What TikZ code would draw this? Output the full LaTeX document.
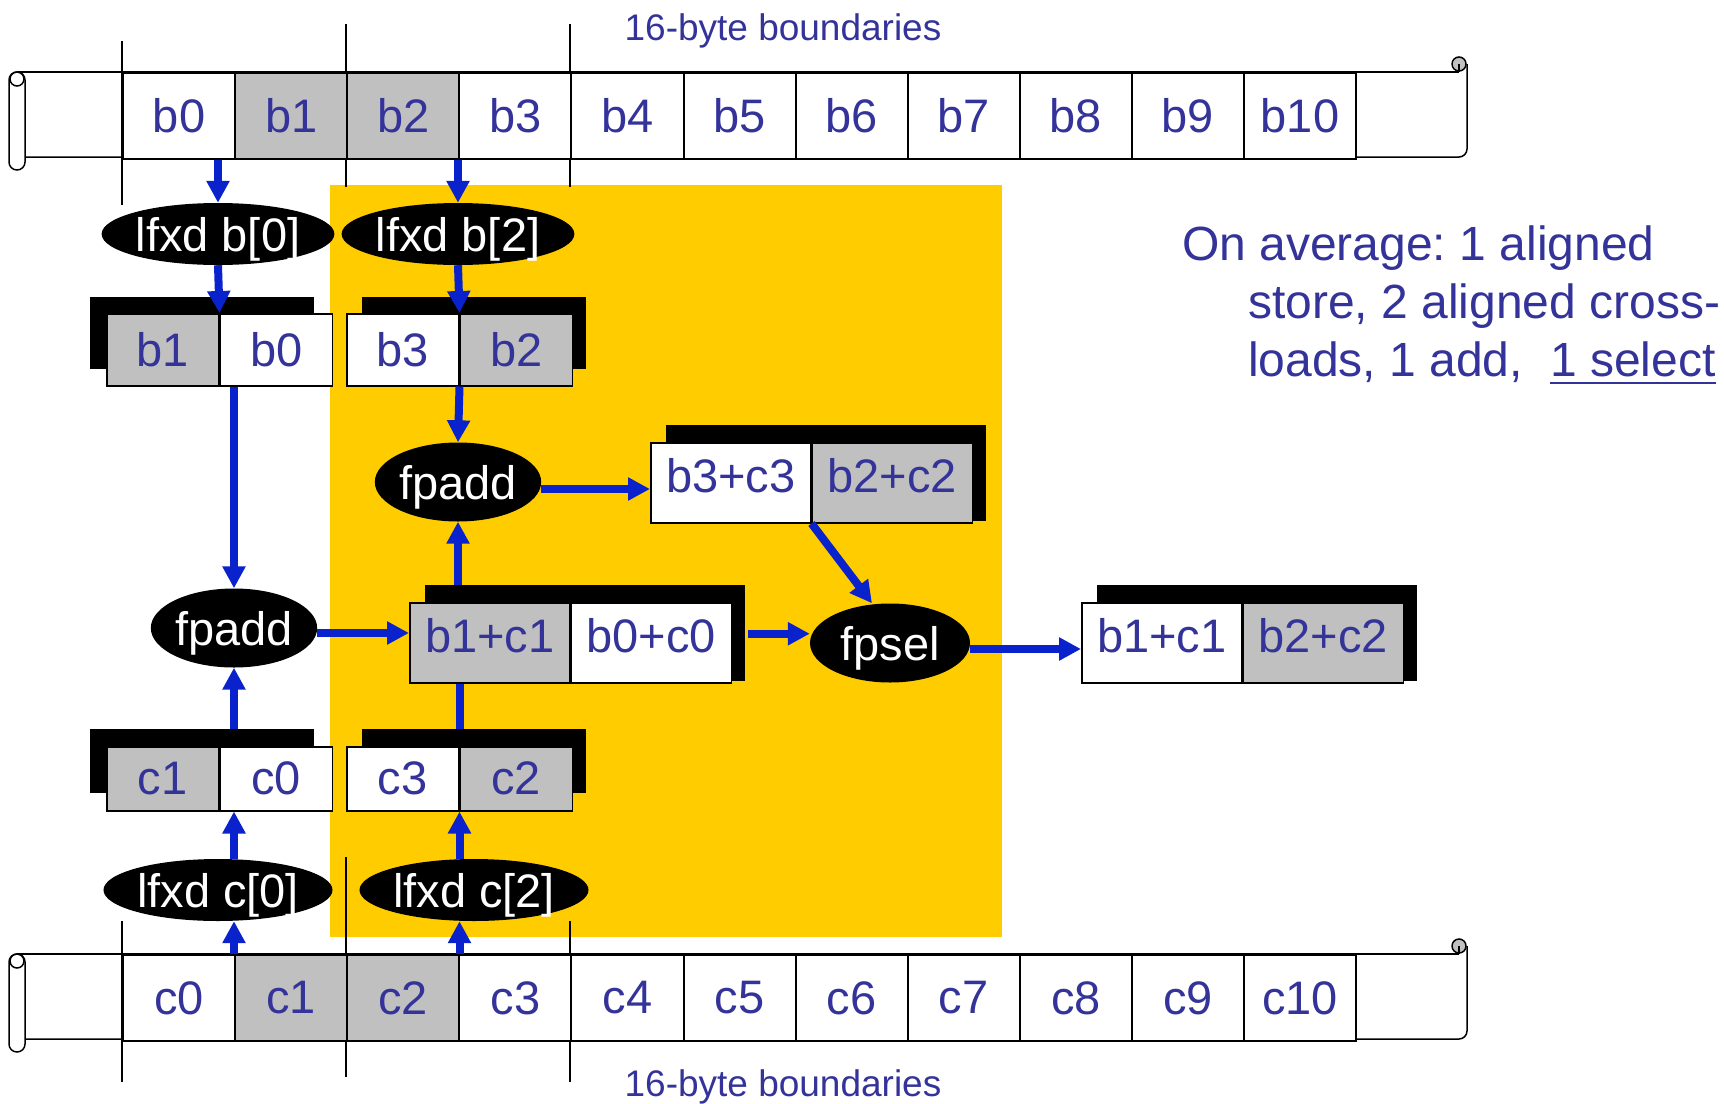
\documentclass[tikz,border=0pt]{standalone}
\usepackage{fontspec}
\setmainfont{Liberation Sans}
\usetikzlibrary{arrows.meta,positioning,shapes.geometric}
\frenchspacing

\definecolor{textblue}{HTML}{333399}
\definecolor{flowblue}{HTML}{0A22CC}
\definecolor{cellgray}{HTML}{C0C0C0}
\definecolor{hotyellow}{HTML}{FFCC00}

\newcommand{\regfont}{\fontsize{47}{56}\selectfont}
\newcommand{\notefont}{\fontsize{48}{58}\selectfont}
\newcommand{\tagfont}{\fontsize{37}{44}\selectfont}

\begin{document}
\begin{tikzpicture}[x=1pt,y=-1pt,
  >={Triangle[length=22pt,width=22pt]},
  memcell/.style={draw,line width=2pt,minimum width=112.1pt,minimum height=86pt,
    inner sep=0pt,text=textblue,font=\regfont},
  reg/.style={draw,line width=1.5pt,inner sep=0pt,text=textblue,font=\regfont},
  pair/.style={reg,minimum width=112pt,minimum height=72pt},
  wide/.style={reg,minimum width=160pt,minimum height=80pt,text depth=14pt},
  op/.style={ellipse,fill=black,text=white,inner sep=0pt,font=\regfont,text depth=0pt},
  load/.style={op,minimum width=225pt,minimum height=62pt},
  alu/.style={op,minimum width=160pt,minimum height=79pt},
  rail/.style={line width=1.5pt},
  bound/.style={line width=1.5pt},
  flow/.style={->,draw=flowblue,line width=8pt},
  link/.style={draw=flowblue,line width=8pt},
  tag/.style={text=textblue,font=\tagfont,inner sep=0pt},
  note/.style={text=textblue,font=\notefont,inner sep=0pt}]

\useasboundingbox (0,0) rectangle (1724,1103);

%% Highlighted region
\fill[hotyellow] (330,185) rectangle (1002,937);

%% 16-byte boundary marks
\draw[bound] (122,41) -- (122,205);
\draw[bound] (346,24) -- (346,187);
\draw[bound] (570,24) -- (570,187);
\draw[bound] (122,921) -- (122,1082);
\draw[bound] (346,857) -- (346,1077);
\draw[bound] (570,921) -- (570,1082);
\node[tag,anchor=base] (bndtop) at (783,40) {16-byte boundaries};
\node[tag,anchor=base] (bndbot) at (783,1096) {16-byte boundaries};

%% Memory streams b and c (scrolls)
\foreach \rw/\ytop in {b/72,c/954}{
  \draw[rail] (17,\ytop) -- (1459,\ytop);
  \draw[rail,rounded corners=8pt] (25,\ytop+85) -- (1467,\ytop+85) -- (1467,\ytop-8);
  \draw[rail,fill=white,rounded corners=7.9pt] (9,\ytop) rectangle (25,\ytop+98);
  \draw[rail] (17,\ytop+7) circle (7pt);
  \draw[rail,fill=cellgray] (1459,\ytop-8) circle (7pt);
  \draw[rail] (1459,\ytop-8) -- (1459,\ytop);
  \foreach \i/\f in {0/white,1/cellgray,2/cellgray,3/white,4/white,5/white,
                     6/white,7/white,8/white,9/white,10/white}{
    \node[memcell,fill=\f,anchor=north west] (\rw\i) at ({122+112.1*\i},\ytop) {\rw\i};
  }
}

%% Register shadows
\fill (90,297) rectangle (314,369);
\fill (362,297) rectangle (586,369);
\fill (90,729) rectangle (314,793);
\fill (362,729) rectangle (586,793);
\fill (666,425) rectangle (986,521);
\fill (425,585) rectangle (745,681);
\fill (1097,585) rectangle (1417,681);

%% Registers
\node[pair,fill=cellgray,anchor=north west] (rb1) at (106,313) {b1};
\node[pair,fill=white,right=0pt of rb1] (rb0) {b0};
\node[pair,fill=white,anchor=north west] (rb3) at (346,313) {b3};
\node[pair,fill=cellgray,right=0pt of rb3] (rb2) {b2};

\node[pair,minimum height=64pt,fill=cellgray,anchor=north west] (rc1) at (106,746) {c1};
\node[pair,minimum height=64pt,fill=white,right=0pt of rc1] (rc0) {c0};
\node[pair,minimum height=64pt,fill=white,anchor=north west] (rc3) at (346,746) {c3};
\node[pair,minimum height=64pt,fill=cellgray,right=0pt of rc3] (rc2) {c2};

\node[wide,fill=white,anchor=north west] (sh3) at (650,442) {b3+c3};
\node[wide,fill=cellgray,right=0pt of sh3] (sh2) {b2+c2};
\node[wide,fill=cellgray,anchor=north west] (sl1) at (409,602) {b1+c1};
\node[wide,fill=white,right=0pt of sl1] (sl0) {b0+c0};
\node[wide,fill=white,anchor=north west] (rs1) at (1081,602) {b1+c1};
\node[wide,fill=cellgray,right=0pt of rs1] (rs2) {b2+c2};

%% Operations
\node[load] (lfb0) at (218,234) {lfxd b[0]};
\node[load] (lfb2) at (458,234) {lfxd b[2]};
\node[load] (lfc0) at (218,890) {lfxd c[0]};
\node[load] (lfc2) at (474,890) {lfxd c[2]};
\node[alu] (addhi) at (458,482) {fpadd};
\node[alu] (addlo) at (234,628) {fpadd};
\node[alu] (sel) at (890,643) {fpsel};

%% Data flow
\draw[flow] (lfb0.north |- b0.south) -- (lfb0.north);
\draw[flow] (lfb2.north |- b2.south) -- (lfb2.north);
\draw[flow] (lfb0.south) -- (rb1.north east);
\draw[flow] (lfb2.south) -- (rb3.north east);
\draw[flow] (addlo.north |- rb0.south) -- (addlo.north);
\draw[flow] (rb3.south east) -- (addhi.north);
\draw[flow] ([yshift=-7pt]addhi.east) -- ([yshift=-7pt]addhi.east -| sh3.west);
\draw[flow] ([yshift=-5pt]addlo.east) -- ([yshift=-5pt]addlo.east -| sl1.west);
\draw[flow] ([yshift=17pt]addhi.south |- sl1.north) -- (addhi.south);
\draw[link] ([yshift=17pt]rc3.north east) -- (rc3.north east |- sl1.south);
\draw[flow] ([yshift=17pt]addlo.south |- rc0.north) -- (addlo.south);
\draw[flow] (addlo.south |- lfc0.north) -- (addlo.south |- rc0.south);
\draw[flow] (addlo.south |- c0.north) -- (addlo.south |- lfc0.south);
\draw[flow] (rc3.south east |- lfc2.north) -- (rc3.south east);
\draw[flow] (rc3.south east |- c2.north) -- (rc3.south east |- lfc2.south);
\draw[flow] ([xshift=16pt,yshift=9pt]sl0.east) -- ([yshift=9pt]sl0.east -| sel.west);
\draw[flow] (sh3.south east) -- ([xshift=-18pt]sel.north);
\draw[flow] ([yshift=-6pt]sel.east) -- ([yshift=-6pt]sel.east -| rs1.west);

%% Cost summary
\node[note,anchor=base west] (avg1) at (1182,260) {On average: 1 aligned};
\node[note,anchor=base west] (avg2) at (1248,318) {store, 2 aligned cross-};
\node[note,anchor=base west] (avg3) at (1248,376) {loads, 1 add,\ \ \null};
\node[note,anchor=base west] (avg4) at (avg3.base east) {1 select};
\draw[textblue,line width=2.5pt] ([yshift=-7pt]avg4.base west) -- ([yshift=-7pt]avg4.base east);

\end{tikzpicture}
\end{document}
